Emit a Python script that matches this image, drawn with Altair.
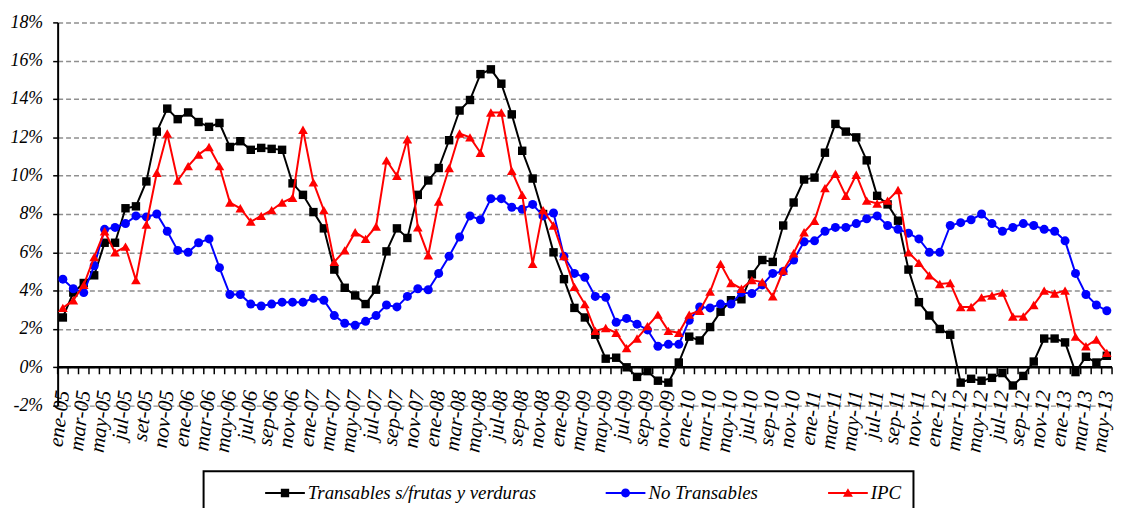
import altair as alt
import pandas as pd

# ---- data ----
tick_labels = [
    "ene-05", "mar-05", "may-05", "jul-05", "set-05", "nov-05",
    "ene-06", "mar-06", "may-06", "jul-06", "sep-06", "nov-06",
    "ene-07", "mar-07", "may-07", "jul-07", "sep-07", "nov-07",
    "ene-08", "mar-08", "may-08", "jul-08", "sep-08", "nov-08",
    "ene-09", "mar-09", "may-09", "jul-09", "sep-09", "nov-09",
    "ene-10", "mar-10", "may-10", "jul-10", "sep-10", "nov-10",
    "ene-11", "mar-11", "may-11", "jul-11", "sep-11", "nov-11",
    "ene-12", "mar-12", "may-12", "jul-12", "sep-12", "nov-12",
    "ene-13", "mar-13", "may-13",
]

transables = [
    2.6, 3.9, 4.4, 4.8, 6.5, 6.5, 8.3, 8.4, 9.7, 12.3,
    13.5, 12.95, 13.3, 12.8, 12.55, 12.75, 11.5, 11.8, 11.35, 11.45,
    11.4, 11.35, 9.6, 9.0, 8.1, 7.25, 5.1, 4.15, 3.75, 3.3,
    4.05, 6.05, 7.25, 6.75, 9.0, 9.75, 10.4, 11.85, 13.4, 13.95,
    15.3, 15.55, 14.8, 13.2, 11.3, 9.85, 8.0, 6.0, 4.6, 3.1,
    2.6, 1.7, 0.45, 0.5, 0.0, -0.5, -0.2, -0.7, -0.8, 0.25,
    1.6, 1.4, 2.1, 2.9, 3.5, 3.55, 4.85, 5.6, 5.5, 7.4,
    8.6, 9.8, 9.9, 11.2, 12.7, 12.3, 12.0, 10.8, 8.95, 8.5,
    7.65, 5.1, 3.4, 2.7, 2.0, 1.7, -0.8, -0.6, -0.7, -0.55,
    -0.3, -0.95, -0.45, 0.3, 1.5, 1.5, 1.3, -0.25, 0.55, 0.25,
    0.6,
]

no_transables = [
    4.6, 4.1, 3.9, 5.3, 7.2, 7.3, 7.5, 7.9, 7.85, 8.0,
    7.1, 6.1, 6.0, 6.5, 6.7, 5.2, 3.8, 3.8, 3.3, 3.2,
    3.3, 3.4, 3.4, 3.4, 3.6, 3.5, 2.7, 2.3, 2.2, 2.4,
    2.7, 3.25, 3.15, 3.7, 4.1, 4.05, 4.9, 5.8, 6.8, 7.9,
    7.7, 8.8, 8.8, 8.35, 8.25, 8.5, 7.9, 8.05, 5.8, 4.9,
    4.7, 3.7, 3.65, 2.35, 2.55, 2.25, 1.95, 1.1, 1.2, 1.2,
    2.45, 3.15, 3.1, 3.3, 3.3, 3.9, 3.85, 4.3, 4.9, 5.0,
    5.6, 6.55, 6.6, 7.1, 7.3, 7.3, 7.5, 7.75, 7.9, 7.4,
    7.2, 7.0, 6.7, 6.0, 6.0, 7.4, 7.55, 7.7, 8.0, 7.5,
    7.1, 7.3, 7.5, 7.4, 7.2, 7.1, 6.6, 4.9, 3.8, 3.25,
    2.95,
]

ipc = [
    3.1, 3.5, 4.3, 5.75, 7.1, 6.0, 6.3, 4.55, 7.45, 10.15,
    12.2, 9.75, 10.5, 11.1, 11.5, 10.5, 8.6, 8.3, 7.6, 7.9,
    8.2, 8.6, 8.85, 12.4, 9.65, 8.2, 5.5, 6.1, 7.05, 6.7,
    7.35, 10.8, 10.0, 11.9, 7.3, 5.85, 8.65, 10.4, 12.2, 12.0,
    11.2, 13.3, 13.3, 10.25, 9.0, 5.4, 8.2, 7.4, 5.8, 4.2,
    3.3, 1.9, 2.05, 1.8, 1.0, 1.5, 2.15, 2.75, 1.9, 1.8,
    2.75, 2.95, 3.95, 5.4, 4.4, 4.1, 4.55, 4.45, 3.7, 5.05,
    5.95, 7.05, 7.65, 9.35, 10.1, 8.95, 10.05, 8.7, 8.55, 8.7,
    9.25, 6.0, 5.45, 4.8, 4.35, 4.4, 3.15, 3.15, 3.65, 3.75,
    3.9, 2.65, 2.65, 3.25, 4.0, 3.85, 4.0, 1.6, 1.1, 1.45,
    0.75,
]

series_names = ["Transables s/frutas y verduras", "No Transables", "IPC"]
series_colors = ["#000000", "#0000FF", "#FF0000"]
marker_shapes = ["square", "circle", "triangle-up"]
marker_sizes = [72, 82, 95]
y_ticks = list(range(-2, 19, 2))

# legend symbols: line stub + marker
stub = "M-2,-0.1L2,-0.1L2,0.1L-2,0.1Z "
legend_paths = [
    stub + "M-0.42,-0.42L0.42,-0.42L0.42,0.42L-0.42,0.42Z",
    stub + "M0.45,0A0.45,0.45,0,1,1,-0.45,0A0.45,0.45,0,1,1,0.45,0Z",
    stub + "M0,-0.48L0.5,0.38L-0.5,0.38Z",
]

rows = []
for name, vals in zip(series_names, [transables, no_transables, ipc]):
    for i, v in enumerate(vals):
        rows.append({"idx": i, "serie": name, "valor": v})
df = pd.DataFrame(rows)
n = len(transables)
bounds_df = pd.DataFrame({"b": [i - 0.5 for i in range(n + 1)]})

# ---- layout ----
W, H = 1062, 386
ymin, ymax = -2, 18
zero_offset = -H * (0 - ymin) / (ymax - ymin)
tick_len = 7 * (ymax - ymin) / H
FONT = "Liberation Serif"

x_scale = alt.Scale(domain=[-0.5, n - 0.5], nice=False, zero=False)
y_scale = alt.Scale(domain=[ymin, ymax], nice=False, zero=False)
color_scale = alt.Scale(domain=series_names, range=series_colors)

label_expr = "[" + ",".join("'" + t + "'" for t in tick_labels) + "][floor(datum.value/2)]"

x_axis = alt.Axis(
    values=list(range(0, n, 2)), labelExpr=label_expr, ticks=False, domain=False,
    grid=False, labelAngle=-83, labelAlign="right", labelBaseline="middle",
    labelPadding=23, labelFont=FONT, labelFontStyle="italic", labelFontSize=21,
    labelColor="black", offset=zero_offset, orient="bottom", title=None,
    labelOverlap=False,
)
y_axis = alt.Axis(
    values=y_ticks, labelExpr="datum.value + '%'", grid=True, gridColor="#8f8f8f",
    gridDash=[5, 3], gridWidth=1.5,
    domainColor="black", domainWidth=2, tickColor="black", tickSize=5, tickWidth=1.5,
    labelFont=FONT, labelFontStyle="italic", labelFontSize=18, labelColor="black",
    labelPadding=10, title=None,
)

X = alt.X("idx:Q", scale=x_scale, axis=x_axis)
Y = alt.Y("valor:Q", scale=y_scale, axis=y_axis)

base = alt.Chart(df)

# zero axis line and ticks between months
zero_line = alt.Chart(bounds_df).mark_rule(color="black", strokeWidth=2.5).encode(
    x=alt.X("min(b):Q", scale=x_scale, axis=x_axis),
    x2="max(b):Q",
    y=alt.Y("z:Q", scale=y_scale, axis=y_axis),
).transform_calculate(z="0")

ticks = alt.Chart(bounds_df).mark_rule(color="black", strokeWidth=1.5).encode(
    x=alt.X("b:Q", scale=x_scale, axis=x_axis),
    y=alt.Y("z0:Q", scale=y_scale, axis=y_axis),
    y2="z1:Q",
).transform_calculate(z0="0", z1=str(-tick_len))


def series_layers(k):
    sub = base.transform_filter(alt.datum.serie == series_names[k])
    line = sub.mark_line(strokeWidth=2, color=series_colors[k]).encode(x=X, y=Y)
    pts = sub.mark_point(shape=marker_shapes[k], size=marker_sizes[k], filled=True,
                         opacity=1, color=series_colors[k]).encode(x=X, y=Y)
    return [line, pts]


leg = alt.Legend(
    title=" ", titleOrient="left", titleFontSize=1, titlePadding=60,
    orient="none", legendX=147, legendY=452, direction="horizontal",
    strokeColor="black", fillColor="white", padding=12,
    symbolSize=400, symbolStrokeWidth=0, labelFont=FONT, labelFontStyle="italic",
    labelFontSize=19, labelColor="black", labelOffset=13, columnPadding=70,
    labelLimit=500,
)

legend_layer = base.transform_filter("false").mark_point(filled=True, opacity=1).encode(
    x=X, y=Y,
    color=alt.Color("serie:N", scale=color_scale, legend=leg),
    shape=alt.Shape("serie:N", scale=alt.Scale(domain=series_names, range=legend_paths), legend=leg),
)

layers = [zero_line, ticks]
for k in range(3):
    layers += series_layers(k)
layers.append(legend_layer)

chart = alt.layer(*layers).properties(
    width=W, height=H,
    autosize=alt.AutoSizeParams(type="none"),
    padding={"left": 50, "top": 12.7, "right": 6, "bottom": 101},
).configure(font=FONT).configure_view(strokeWidth=0).configure_legend(
    strokeWidth=2, labelFont=FONT, labelFontStyle="italic", labelFontSize=19,
    labelColor="black",
)

chart.save("out.html", embed_options={"renderer": "svg", "actions": False})
